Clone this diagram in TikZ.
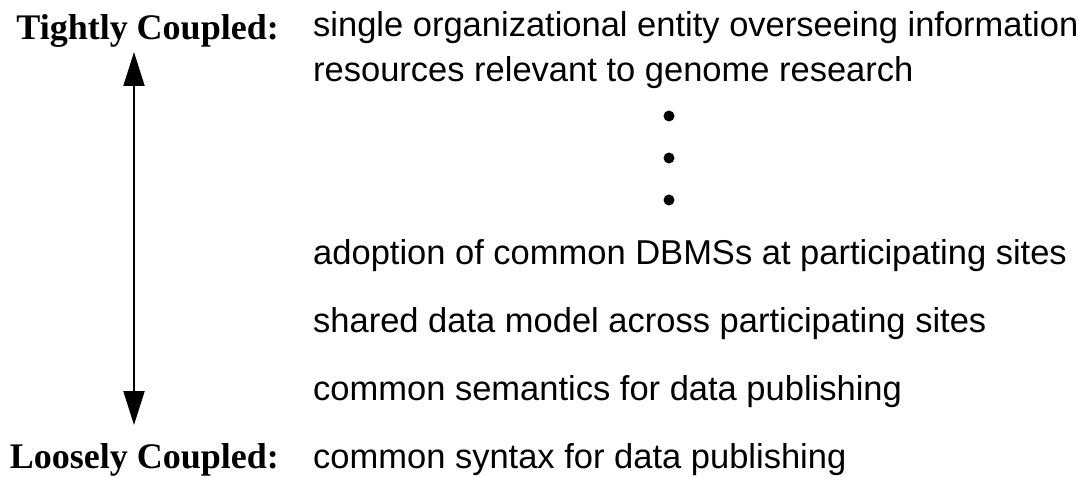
\documentclass[tikz,border=0pt]{standalone}
\usepackage{fontspec}
\setmainfont{Liberation Sans}
\newfontfamily\labelfont{Liberation Serif}
\usetikzlibrary{arrows.meta}
\tikzset{
  item/.style={anchor=base west, inner sep=0pt, font=\fontsize{34.5}{40}\selectfont},
  endlabel/.style={anchor=base east, inner sep=0pt, font=\labelfont\bfseries\fontsize{36}{42}\selectfont},
  dotmark/.style={circle, fill=black, inner sep=0pt, minimum size=11pt},
  scalearrow/.style={line width=2pt, {Triangle[length=34pt,width=21pt]}-{Triangle[length=34pt,width=21pt]}}
}
\begin{document}
\begin{tikzpicture}[x=1pt,y=-1pt]
\useasboundingbox (0,0) rectangle (1084,478);
\node[endlabel] (tight) at (279,40) {Tightly Coupled:};
\node[endlabel] (loose) at (279,468) {Loosely Coupled:};
\node[item] (l1) at (313,37) {single organizational entity overseeing information};
\node[item] (l2) at (313,82) {resources relevant to genome research};
\node[dotmark] (d1) at (669,116) {};
\node[dotmark] (d2) at (669,158) {};
\node[dotmark] (d3) at (669,200) {};
\node[item] (l3) at (313,265) {adoption of common DBMSs at participating sites};
\node[item] (l4) at (313,332) {shared data model across participating sites};
\node[item] (l5) at (313,400) {common semantics for data publishing};
\node[item] (l6) at (313,468) {common syntax for data publishing};
\coordinate (atop) at (134,52);
\coordinate (abot) at (134,425);
\draw[scalearrow] (atop) -- (abot);
\end{tikzpicture}
\end{document}
